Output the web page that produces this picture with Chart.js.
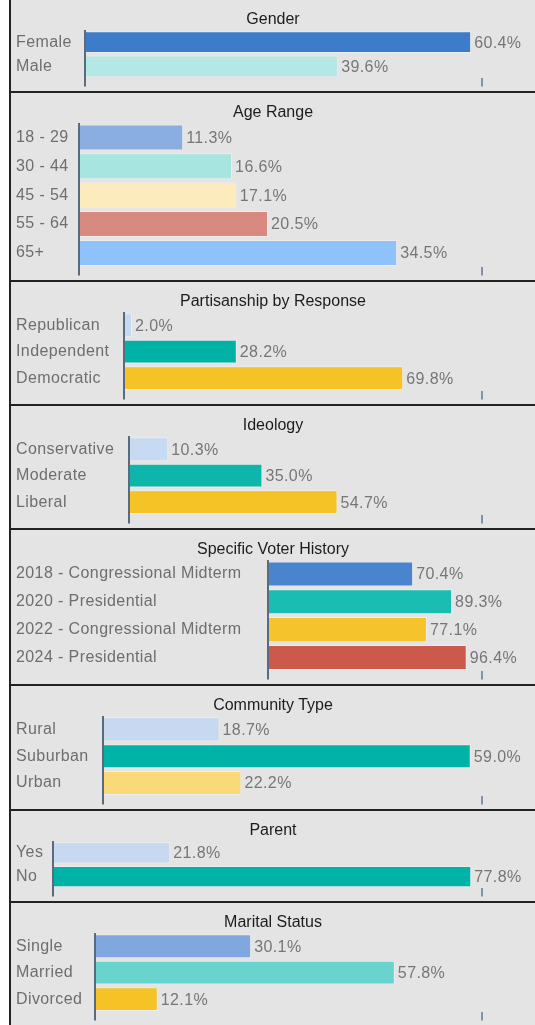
<!DOCTYPE html>
<html>
<head>
<meta charset="utf-8">
<script src="https://cdn.jsdelivr.net/npm/chart.js@4.4.1/dist/chart.umd.min.js"></script>
<style>
  body { margin: 0; background: #fff; font-family: "Liberation Sans", Arial, sans-serif; }
  #wrap { position: absolute; left: 9px; top: 0; width: 524px; border-left: 2px solid #222; }
  .panel { position: relative; background: #e4e4e4; border-bottom: 2px solid #222; }
  .panel:last-child { border-bottom: none; }
  .panel h3 { position: absolute; top: 9px; left: 0; width: 100%; margin: 0; font-size: 16px; line-height: 19px; font-weight: normal; text-align: center; color: #1c1c1c; }
  canvas { display: block; }
</style>
</head>
<body>
<div id="wrap"></div>
<script>
// survey data (percent of respondents)
const genderLabels = ['Female', 'Male'];
const genderValues = [60.4, 39.6];
const ageLabels = ['18 - 29', '30 - 44', '45 - 54', '55 - 64', '65+'];
const ageValues = [11.3, 16.6, 17.1, 20.5, 34.5];
const partyLabels = ['Republican', 'Independent', 'Democratic'];
const partyValues = [2.0, 28.2, 69.8];
const ideologyLabels = ['Conservative', 'Moderate', 'Liberal'];
const ideologyValues = [10.3, 35.0, 54.7];
const voterLabels = ['2018 - Congressional Midterm', '2020 - Presidential', '2022 - Congressional Midterm', '2024 - Presidential'];
const voterValues = [70.4, 89.3, 77.1, 96.4];
const communityLabels = ['Rural', 'Suburban', 'Urban'];
const communityValues = [18.7, 59.0, 22.2];
const parentLabels = ['Yes', 'No'];
const parentValues = [21.8, 77.8];
const maritalLabels = ['Single', 'Married', 'Divorced'];
const maritalValues = [30.1, 57.8, 12.1];

// panel layout + colours
const panels = [
    { title: 'Gender', labels: genderLabels, values: genderValues, colors: ['#3d7cc9', '#b3e8e4'], height: 91, axisLeft: 85, max: 62.1 },
    { title: 'Age Range', labels: ageLabels, values: ageValues, colors: ['#8aaee0', '#a6e5e0', '#fbebbd', '#d98a80', '#8fc1fa'], height: 187, axisLeft: 79, max: 43.7 },
    { title: 'Partisanship by Response', labels: partyLabels, values: partyValues, colors: ['#c5d9f0', '#00b2a5', '#f5c325'], height: 122, axisLeft: 124, max: 89.5 },
    { title: 'Ideology', labels: ideologyLabels, values: ideologyValues, colors: ['#c6daf2', '#0db5aa', '#f5c325'], height: 122, axisLeft: 129, max: 92.6 },
    { title: 'Specific Voter History', labels: voterLabels, values: voterValues, colors: ['#4a84ce', '#1bbcb2', '#f5c42c', '#cc5a4c'], height: 154, axisLeft: 268, max: 103.8 },
    { title: 'Community Type', labels: communityLabels, values: communityValues, colors: ['#c6d9f0', '#00b3a7', '#f9d978'], height: 123, axisLeft: 103, max: 60.8 },
    { title: 'Parent', labels: parentLabels, values: parentValues, colors: ['#c6d9f0', '#00b3a7'], height: 90, axisLeft: 53, max: 79.8 },
    { title: 'Marital Status', labels: maritalLabels, values: maritalValues, colors: ['#80a8de', '#69d4ce', '#f5c325'], height: 122, axisLeft: 95, max: 74.6 }
];

const FONT = '"Liberation Sans", Arial, sans-serif';
const AXIS_COLOR = '#5b6b7e';
const TICK_COLOR = '#7f93ab';

Chart.defaults.font.family = FONT;
Chart.defaults.font.size = 16;

// the reference text is a touch wider than plain Arial
const spacing = {
    id: 'spacing',
    beforeDraw(chart) {
        chart.ctx.letterSpacing = '0.4px';
    }
};

// draws the "60.4%" text at the end of each bar
const valueLabels = {
    id: 'valueLabels',
    afterDatasetsDraw(chart) {
        const ctx = chart.ctx;
        const data = chart.data.datasets[0].data;
        ctx.save();
        ctx.font = '16px ' + FONT;
        ctx.fillStyle = '#767676';
        ctx.textBaseline = 'middle';
        chart.getDatasetMeta(0).data.forEach((bar, i) => {
            ctx.fillText(data[i].toFixed(1) + '%', bar.x + 3, bar.y + 1);
        });
        ctx.restore();
    }
};

const wrap = document.getElementById('wrap');

panels.forEach(p => {
    const div = document.createElement('div');
    div.className = 'panel';
    div.style.height = p.height + 'px';
    const h = document.createElement('h3');
    h.textContent = p.title;
    const canvas = document.createElement('canvas');
    canvas.width = 524;
    canvas.height = p.height;
    div.appendChild(canvas);
    div.appendChild(h);
    wrap.appendChild(div);

    new Chart(canvas.getContext('2d'), {
        type: 'bar',
        data: {
            labels: p.labels,
            datasets: [{
                data: p.values,
                backgroundColor: p.colors,
                borderColor: 'rgba(255, 255, 255, 0.35)',
                borderWidth: 1,
                barPercentage: 0.9,
                categoryPercentage: 1
            }]
        },
        options: {
            indexAxis: 'y',
            responsive: false,
            animation: false,
            layout: { padding: { top: 30, left: 5, right: 53, bottom: 4 } },
            plugins: {
                legend: { display: false },
                tooltip: { enabled: false }
            },
            scales: {
                x: {
                    min: 0,
                    max: p.max,
                    border: { display: false },
                    grid: {
                        color: c => (c.tick && c.tick.value === 0) ? AXIS_COLOR : 'rgba(0,0,0,0)',
                        tickColor: c => (c.tick && c.tick.value === 0) ? AXIS_COLOR : TICK_COLOR,
                        lineWidth: 2,
                        tickLength: 8
                    },
                    ticks: { display: false },
                    afterBuildTicks: s => { s.ticks = [{ value: 0 }, { value: p.max }]; }
                },
                y: {
                    border: { display: false },
                    grid: { display: false },
                    ticks: {
                        crossAlign: 'far',
                        color: '#6e6e6e',
                        font: { size: 16 }
                    },
                    afterFit: s => { s.width = p.axisLeft - 16; }
                }
            }
        },
        plugins: [spacing, valueLabels]
    });
});
</script>
</body>
</html>
